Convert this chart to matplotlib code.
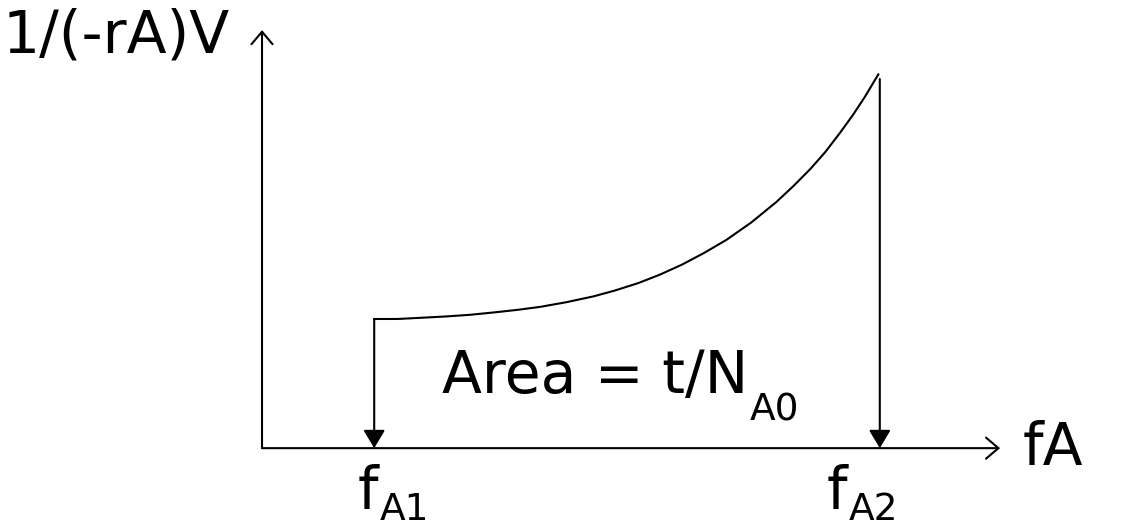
import matplotlib
matplotlib.use("Agg")
import matplotlib.pyplot as plt

# conversion curve 1/(-rA)V against fA
fA = [0.152, 0.184, 0.217, 0.249, 0.282, 0.316, 0.347, 0.377, 0.412,
      0.449, 0.478, 0.510, 0.539, 0.569, 0.599, 0.629, 0.663, 0.697,
      0.720, 0.743, 0.763, 0.783, 0.801, 0.817, 0.835]
inv_rv = [0.309, 0.309, 0.312, 0.315, 0.319, 0.325, 0.331, 0.338, 0.349,
          0.363, 0.377, 0.395, 0.415, 0.439, 0.467, 0.498, 0.540, 0.589,
          0.627, 0.668, 0.708, 0.754, 0.798, 0.841, 0.894]

fA1 = 0.152
fA2 = 0.837
top_A2 = 0.883

x_label = "fA"
y_label = "1/(-rA)V"
area_label = "Area = t/N"
area_sub = "A0"
f_sub = ["A1", "A2"]

fig = plt.figure(figsize=(11.3, 5.28), dpi=100)
ax = fig.add_axes([0, 0, 1, 1])
ax.set_xlim(-0.355, 1.176)
ax.set_ylim(-0.191, 1.072)
ax.axis("off")

lw = 1.5
open_head = dict(arrowstyle="->,head_length=0.45,head_width=0.38",
                 mutation_scale=20, lw=lw, color="black", shrinkA=0, shrinkB=0)
solid_head = dict(arrowstyle="-|>,head_length=0.55,head_width=0.33",
                  mutation_scale=20, lw=lw, color="black", shrinkA=0, shrinkB=0)

# axes with open arrow heads
ax.annotate("", xy=(1.0, 0), xytext=(0, 0), arrowprops=open_head)
ax.annotate("", xy=(0, 1.0), xytext=(0, 0), arrowprops=open_head)

# the curve and the two drop lines
ax.plot(fA, inv_rv, color="black", lw=lw, solid_joinstyle="round")
ax.annotate("", xy=(fA1, 0), xytext=(fA1, inv_rv[0]), arrowprops=solid_head)
ax.annotate("", xy=(fA2, 0), xytext=(fA2, top_A2), arrowprops=solid_head)

big = 42
small = 27


def with_sub(x, y, main, sub, drop):
    # main text plus a subscript hung off its bottom-right corner
    t = ax.text(x, y, main, fontsize=big, ha="left", va="baseline")
    ax.annotate(sub, xy=(1, 0), xycoords=t, xytext=(1, -drop),
                textcoords="offset points", fontsize=small,
                ha="left", va="baseline")
    return t


ax.text(-0.351, 0.947, y_label, fontsize=big, ha="left", va="baseline")
ax.text(1.030, -0.041, x_label, fontsize=big, ha="left", va="baseline")
with_sub(0.244, 0.132, area_label, area_sub, 11)
with_sub(0.130, -0.143, "f", f_sub[0], 0)
with_sub(0.765, -0.143, "f", f_sub[1], 0)

fig.savefig("out.png", dpi=100)
